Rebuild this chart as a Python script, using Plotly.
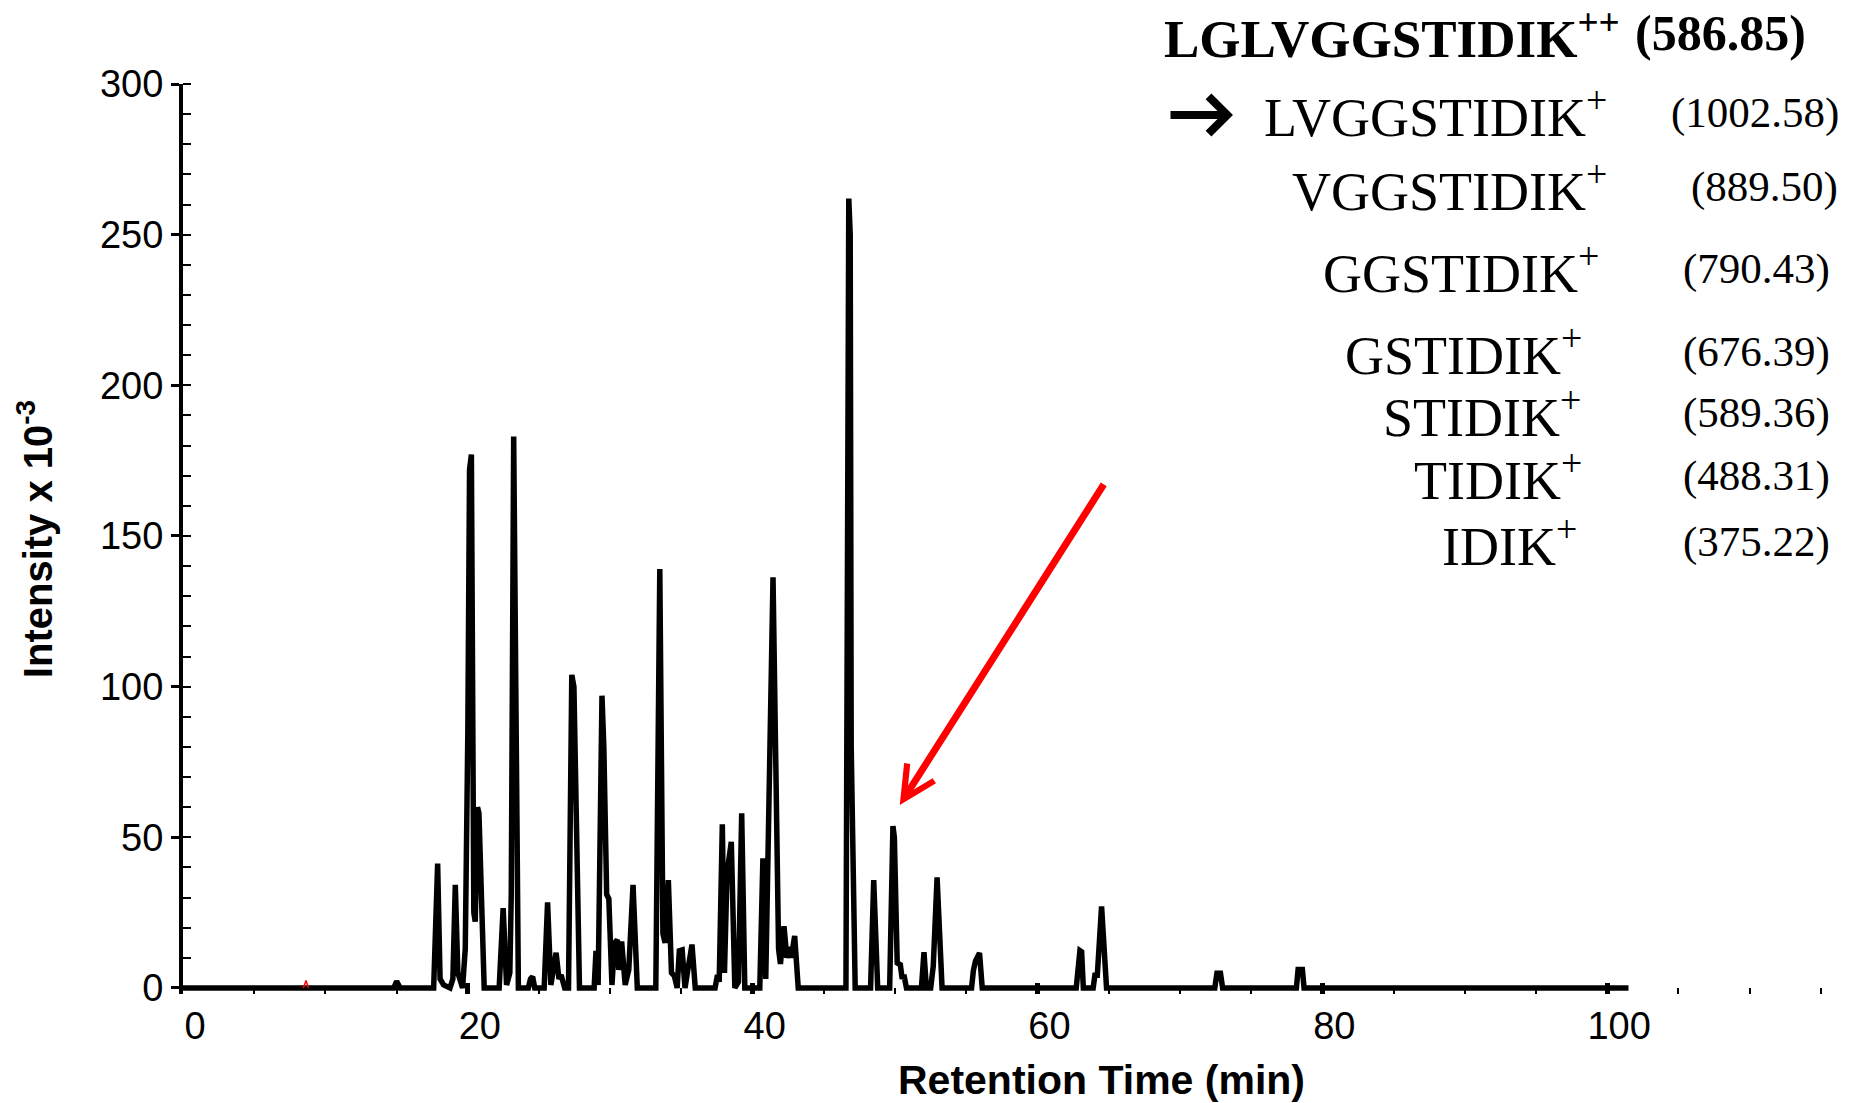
import plotly.graph_objects as go

# ---------------- data ----------------
rt_min = [0,
          14.8, 15.0, 15.25,
          17.6, 17.88, 18.05, 18.3, 18.75,
          18.95, 19.12, 19.3, 19.5, 19.63,
          19.82, 20.0, 20.12, 20.25, 20.42, 20.52, 20.68, 20.78, 21.15,
          22.2, 22.48, 22.72, 22.95, 23.05, 23.22, 23.55,
          24.25, 24.4, 24.55, 24.7,
          25.36, 25.6, 25.83, 26.2, 26.4, 26.55, 26.8,
          27.07, 27.3, 27.45, 27.84,
          28.87, 29.0, 29.15, 29.42, 29.55, 29.75, 29.9, 30.12, 30.3, 30.5, 30.6, 30.8, 31.05, 31.3, 31.6, 31.9,
          33.2, 33.48, 33.62, 33.7, 33.85, 34.08, 34.3, 34.5, 34.7, 34.85, 35.05, 35.25, 35.45, 35.74, 35.97,
          37.36, 37.53, 37.65, 37.87, 38.02, 38.2, 38.5, 38.75, 39.0, 39.23, 39.45,
          40.5, 40.72, 40.92, 41.43, 41.82, 41.95, 42.2, 42.4, 42.56, 42.7, 42.95, 43.2,
          46.55, 46.75, 46.85, 46.92, 47.2,
          48.28, 48.5, 48.78,
          49.62, 49.85, 49.95, 50.15, 50.37, 50.5, 50.62, 50.8,
          51.85, 52.03, 52.2,
          52.5, 52.68, 52.95, 53.3,
          55.37, 55.5, 55.65, 55.93, 56.12,
          62.72, 62.8, 62.98, 63.1, 63.22,
          63.91, 64.03, 64.2, 64.5, 64.85,
          72.45, 72.6, 72.85, 73.0,
          78.18, 78.3, 78.6, 78.72,
          101.5]
intensity = [0,
             0, 2.2, 0,
             0, 41.3, 3, 1, 0,
             3, 34.2, 5, 2, 0,
             13, 85, 172, 177, 25, 22, 60, 58, 0,
             0, 26.5, 1, 5, 31, 183, 0,
             0, 3, 3.7, 0,
             0, 28.4, 1, 11.7, 3, 4.3, 0,
             0, 103.9, 100, 0,
             0, 12.3, 1, 97, 80, 31, 29.6, 1, 14.8, 16, 6, 15.4, 1, 6, 34.2, 0,
             0, 139, 60, 18, 15, 35.8, 5, 4, 0, 12.3, 12.6, 0, 6, 14.4, 0,
             0, 4.3, 2, 54.3, 5, 38, 48.5, 0, 2, 58, 0,
             0, 43, 3, 136.3, 13, 8, 20.5, 10, 13.6, 10, 17.3, 0,
             0, 262, 250, 80, 0,
             0, 35.8, 0,
             0, 53.7, 50, 8.3, 7.7, 3, 4.4, 0,
             0, 11.9, 0,
             0, 7.2, 36.7, 0,
             0, 5.8, 9, 11.6, 0,
             0, 4, 12.4, 12, 0,
             0, 4.2, 4.2, 27.1, 0,
             0, 4.9, 4.9, 0,
             0, 6.1, 6.1, 0,
             0]

red_rt = [8.45, 8.64, 8.8]
red_intensity = [0, 2.5, 0]

x_tick_vals = [0, 20, 40, 60, 80, 100]
y_tick_vals = [0, 50, 100, 150, 200, 250, 300]

precursor_name = "LGLVGGSTIDIK"
precursor_mz = "586.85"
fragment_names = ["LVGGSTIDIK", "VGGSTIDIK", "GGSTIDIK", "GSTIDIK", "STIDIK", "TIDIK", "IDIK"]
fragment_mz = ["1002.58", "889.50", "790.43", "676.39", "589.36", "488.31", "375.22"]

# red arrow (pointing at the 50-min peak), in data units
red_arrow_head = (50.33, 60.7)
red_arrow_tail = (64.72, 167.6)

# ---------------- layout helpers ----------------
W, H = 1857, 1103
ML, MR, MT, MB = 183, 22, 84, 109
PW, PH = W - ML - MR, H - MT - MB


def px(xp):
    return (xp - ML) / PW


def py(yp):
    return (H - MB - yp) / PH


SANS = "Arial, Liberation Sans, sans-serif"
SERIF = "Times New Roman, Liberation Serif, serif"

fig = go.Figure()
fig.add_trace(go.Scatter(x=rt_min, y=intensity, mode="lines",
                         line=dict(color="black", width=5.5),
                         hoverinfo="skip", showlegend=False))
fig.add_trace(go.Scatter(x=red_rt, y=red_intensity, mode="lines",
                         line=dict(color="red", width=1.5),
                         hoverinfo="skip", showlegend=False))

annotations = []
# precursor line (bold)
annotations.append(dict(text=f"<b>{precursor_name}<sup>++</sup></b>", x=px(1622), y=py(35),
                        xref="paper", yref="paper", xanchor="right", yanchor="middle",
                        showarrow=False, font=dict(family=SERIF, size=53, color="black")))
annotations.append(dict(text=f"<b>({precursor_mz})</b>", x=px(1808), y=py(33),
                        xref="paper", yref="paper", xanchor="right", yanchor="middle",
                        showarrow=False, font=dict(family=SERIF, size=50, color="black")))

name_right = [1609, 1609, 1601, 1584, 1583, 1584, 1579]
mz_right = [1841, 1840, 1832, 1832, 1832, 1832, 1832]
line_y = [113, 187, 269, 352, 413, 476, 542]
for name, mz, xr, xm, yc in zip(fragment_names, fragment_mz, name_right, mz_right, line_y):
    annotations.append(dict(text=f"{name}<sup>+</sup>", x=px(xr), y=py(yc),
                            xref="paper", yref="paper", xanchor="right", yanchor="middle",
                            showarrow=False, font=dict(family=SERIF, size=54, color="black")))
    annotations.append(dict(text=f"({mz})", x=px(xm), y=py(yc),
                            xref="paper", yref="paper", xanchor="right", yanchor="middle",
                            showarrow=False, font=dict(family=SERIF, size=43, color="black")))

# black arrow next to the first fragment
annotations.append(dict(text="", x=px(1233), y=py(115), xref="paper", yref="paper",
                        ax=-64, ay=0, showarrow=True, arrowhead=4, arrowsize=0.9,
                        arrowwidth=8, arrowcolor="black", standoff=0))
# red arrow
annotations.append(dict(text="", x=red_arrow_head[0], y=red_arrow_head[1], xref="x", yref="y",
                        ax=red_arrow_tail[0], ay=red_arrow_tail[1], axref="x", ayref="y",
                        showarrow=True, arrowhead=5, arrowsize=0.9, arrowwidth=7,
                        arrowcolor="#ff0000", standoff=0))
# x axis title (not centred on the axis in the reference)
annotations.append(dict(text="<b>Retention Time (min)</b>", x=px(1101), y=py(1080),
                        xref="paper", yref="paper", xanchor="center", yanchor="middle",
                        showarrow=False, font=dict(family=SANS, size=41, color="black")))

fig.update_layout(
    width=W, height=H,
    margin=dict(l=ML, r=MR, t=MT, b=MB),
    paper_bgcolor="white", plot_bgcolor="white",
    showlegend=False,
    annotations=annotations,
    xaxis=dict(range=[0, 116], showgrid=False, zeroline=False, showline=False,
               tickmode="array", tickvals=x_tick_vals, ticktext=[str(v) for v in x_tick_vals],
               ticks="inside", ticklen=11, tickwidth=5, tickcolor="black",
               ticklabelstandoff=6, ticklabelshift=12,
               tickfont=dict(family=SANS, size=38, color="black"),
               minor=dict(tickmode="linear", tick0=0, dtick=5, ticks="inside",
                          ticklen=6, tickwidth=1.5, tickcolor="black", showgrid=False)),
    yaxis=dict(range=[-2, 300], showgrid=False, zeroline=False, showline=True,
               linecolor="black", linewidth=4,
               tickmode="array", tickvals=y_tick_vals, ticktext=[str(v) for v in y_tick_vals],
               ticks="outside", ticklen=8, tickwidth=2.5, tickcolor="black",
               ticklabelstandoff=0,
               tickfont=dict(family=SANS, size=38, color="black"),
               minor=dict(tickmode="linear", tick0=0, dtick=10, ticks="inside",
                          ticklen=8, tickwidth=1.5, tickcolor="black", showgrid=False),
               title=dict(text="<b>Intensity x 10<sup>-3</sup></b>", standoff=36,
                          font=dict(family=SANS, size=40, color="black"))),
)

fig.write_html("out.html")
